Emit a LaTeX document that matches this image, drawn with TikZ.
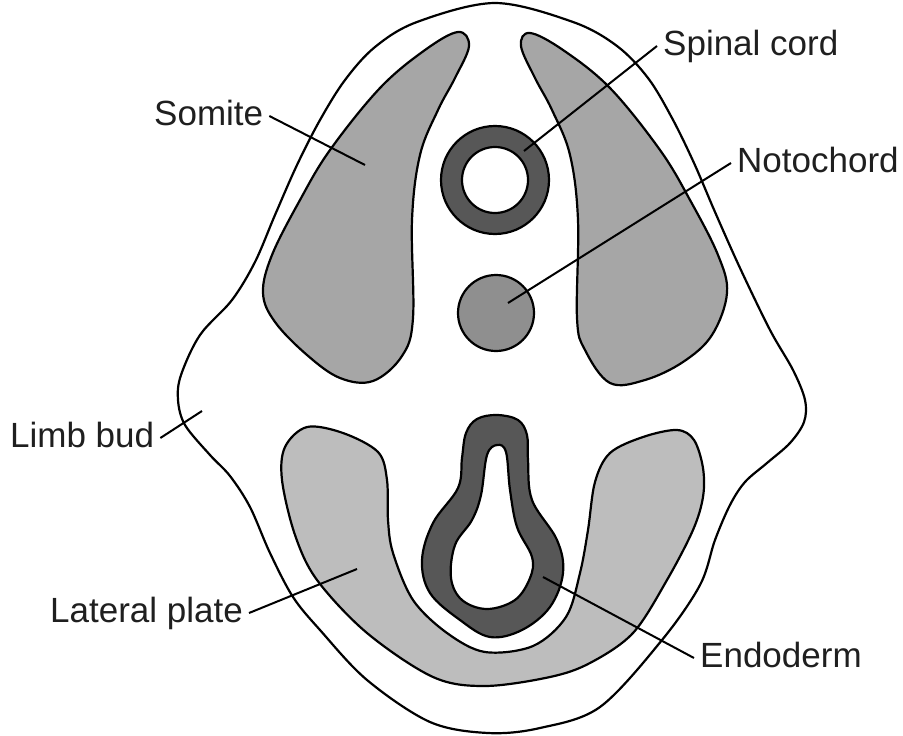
\documentclass[tikz,border=0pt]{standalone}
\usepackage{fontspec}
\setmainfont{Liberation Sans}
\begin{document}
\begin{tikzpicture}[x=1pt,y=-1pt,
  outline/.style={draw=black,line width=2.2pt,line join=round},
  leader/.style={draw=black,line width=2pt},
  lbl/.style={font=\fontsize{35}{42}\selectfont,text=black!88,inner xsep=6pt,inner ysep=0pt,
              text height=25pt,text depth=7pt},
  somitefill/.style={fill=black!35},
  platefill/.style={fill=black!26},
  notofill/.style={fill=black!44},
  darkfill/.style={fill=black!66}]
\useasboundingbox (0,0) rectangle (903,736);

% body outline
\path[outline,fill=white] plot[smooth cycle,tension=0.55] coordinates {
  (495,3) (573,22) (617,46) (648,78) (672,118) (694,163) (715,212) (740,268)
  (770,330) (793,370) (805,400) (804,422) (790,443) (767,463) (745,482) (730,505)
  (715,540) (700,585) (662,640) (600,707) (540,728) (488,733) (430,722) (367,680)
  (320,630) (293,597) (270,553) (250,507) (230,476) (210,455) (185,425) (178,400)
  (181,375) (200,335) (232,300) (255,262) (275,215) (297,165) (320,120) (345,80)
  (375,47) (417,22)};

% somites
\path[outline,somitefill] plot[smooth cycle,tension=0.6] coordinates {
  (458,32) (469,46) (455,78) (438,110) (420,155) (412,220) (413,318) (402,356)
  (373,381) (340,378) (307,355) (275,322) (263,293) (272,255) (300,200) (330,150)
  (380,88) (425,50)};
\path[outline,somitefill] plot[smooth cycle,tension=0.6] coordinates {
  (530,33) (521,46) (535,78) (552,110) (570,155) (578,220) (577,318) (585,350)
  (610,383) (645,380) (683,362) (712,335) (727,293) (718,255) (690,200) (660,150)
  (610,88) (563,50)};

% lateral plate
\path[outline,platefill] plot[smooth cycle,tension=0.55] coordinates {
  (307,427) (343,433) (378,452) (387,480) (388,520) (393,553) (413,600) (447,633)
  (485,652) (533,646) (566,617) (580,573) (588,530) (595,482) (610,453) (643,437)
  (677,430) (694,440) (703,468) (703,497) (693,530) (667,580) (633,633) (590,663)
  (550,677) (485,686) (433,677) (367,633) (317,580) (295,535) (282,480) (285,447)};

% endoderm (gut tube)
\path[darkfill,even odd rule]
  plot[smooth cycle,tension=0.6] coordinates {
    (497,415) (518,420) (527,435) (528,460) (532,500) (557,540) (563,573) (550,607)
    (522,630) (490,637) (460,620) (430,593) (422,560) (433,523) (458,488) (462,458)
    (466,433) (477,419)}
  plot[smooth cycle,tension=0.6] coordinates {
    (497,445) (506,452) (510,490) (517,527) (532,557) (530,578) (515,600) (487,609)
    (462,600) (451,578) (455,545) (472,520) (481,495) (487,455)};
\draw[outline] plot[smooth cycle,tension=0.6] coordinates {
    (497,415) (518,420) (527,435) (528,460) (532,500) (557,540) (563,573) (550,607)
    (522,630) (490,637) (460,620) (430,593) (422,560) (433,523) (458,488) (462,458)
    (466,433) (477,419)};
\draw[outline] plot[smooth cycle,tension=0.6] coordinates {
    (497,445) (506,452) (510,490) (517,527) (532,557) (530,578) (515,600) (487,609)
    (462,600) (451,578) (455,545) (472,520) (481,495) (487,455)};

% spinal cord and notochord
\path[darkfill,even odd rule] (495,180) circle[radius=54] (495,180) circle[radius=33];
\draw[outline] (495,180) circle[radius=54] (495,180) circle[radius=33];
\path[outline,notofill] (496,313) circle[radius=38];

% leader targets
\coordinate (tSomite) at (365,165);
\coordinate (tSpinal) at (524,151);
\coordinate (tNoto) at (508,303);
\coordinate (tLimb) at (202,411);
\coordinate (tPlate) at (357,569);
\coordinate (tEndo) at (543,577);

% labels
\node[lbl,anchor=base west] (lSomite) at (148,125) {Somite};
\node[lbl,anchor=base west] (lSpinal) at (657,55) {Spinal cord};
\node[lbl,anchor=base west] (lNoto) at (731,172) {Notochord};
\node[lbl,anchor=base west] (lLimb) at (4,447) {Limb bud};
\node[lbl,anchor=base west] (lPlate) at (44,622) {Lateral plate};
\node[lbl,anchor=base west] (lEndo) at (694,667) {Endoderm};

\draw[leader] (lSomite.east) -- (tSomite);
\draw[leader] (lSpinal.west) -- (tSpinal);
\draw[leader] (lNoto.west) -- (tNoto);
\draw[leader] (lLimb.east) -- (tLimb);
\draw[leader] (lPlate.east) -- (tPlate);
\draw[leader] (lEndo.west) -- (tEndo);
\end{tikzpicture}
\end{document}
